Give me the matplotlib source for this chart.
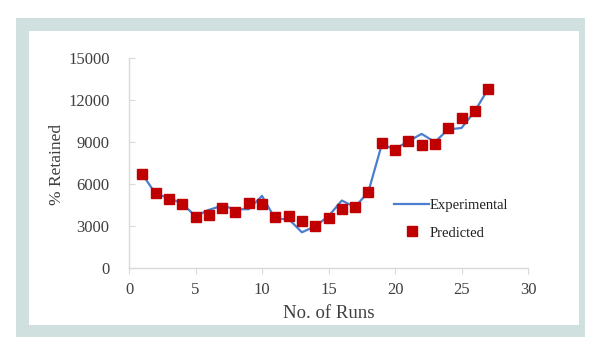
import matplotlib
matplotlib.use("Agg")
import matplotlib.pyplot as plt
from matplotlib.patches import Rectangle
from matplotlib.lines import Line2D

runs = list(range(1, 28))
experimental = [6700, 5300, 5000, 4600, 3700, 4150, 4450, 4200, 4200, 5150,
                3500, 3500, 2550, 2980, 3700, 4820, 4350, 5450, 8800, 8500,
                9050, 9580, 9000, 9900, 10000, 11200, 12780]
predicted = [6720, 5330, 4960, 4550, 3630, 3820, 4320, 4000, 4650, 4570,
             3650, 3730, 3390, 2970, 3560, 4230, 4330, 5460, 8960, 8460,
             9040, 8810, 8860, 9970, 10690, 11230, 12780]
xticks = [0, 5, 10, 15, 20, 25, 30]
yticks = [0, 3000, 6000, 9000, 12000, 15000]

plt.rcParams['font.family'] = ['Liberation Serif', 'DejaVu Serif']

W, H = 614, 337
fig = plt.figure(figsize=(W / 100, H / 100), dpi=100)
fig.patch.set_facecolor('white')

def px_rect(x0, y0, x1, y1, color, z):
    fig.patches.append(Rectangle((x0 / W, 1 - y1 / H), (x1 - x0) / W, (y1 - y0) / H,
                                 transform=fig.transFigure, facecolor=color,
                                 edgecolor='none', zorder=z))

px_rect(16, 18, 585, 337, '#d0e0df', -10)
px_rect(29, 31, 579, 325, 'white', -9)

ax = fig.add_axes([129 / W, 1 - 268 / H, (528 - 129) / W, (268 - 58) / H])
ax.set_facecolor('none')

ax.plot(runs, experimental, color='#4a7fd0', lw=1.6, zorder=2)
ax.plot(runs, predicted, linestyle='none', marker='s', markersize=6.8,
        color='#c00000', markeredgecolor='#c00000', zorder=3)

ax.set_xlim(0, 30)
ax.set_ylim(0, 15000)
ax.set_xticks(xticks)
ax.set_yticks(yticks)
ax.set_xticklabels([str(v) for v in xticks])
ax.set_yticklabels([str(v) for v in yticks])

for s in ['top', 'right']:
    ax.spines[s].set_visible(False)
for s in ['left', 'bottom']:
    ax.spines[s].set_color('#d9d9d9')
    ax.spines[s].set_linewidth(1.0)

ax.tick_params(axis='x', direction='out', length=4, color='#d9d9d9',
               labelsize=12, labelcolor='#404040', pad=6)
ax.tick_params(axis='y', direction='in', length=4, color='#d9d9d9',
               labelsize=12, labelcolor='#404040', pad=14)

ax.set_xlabel('No. of Runs', fontsize=13.5, color='#404040', labelpad=5)
ax.set_ylabel('% Retained', fontsize=12.5, color='#404040')
ax.yaxis.set_label_coords((65 - 129) / 399, 0.495)

handles = [Line2D([], [], color='#4a7fd0', lw=1.6),
           Line2D([], [], linestyle='none', marker='s', markersize=6.8,
                  color='#c00000')]
leg = ax.legend(handles, ['Experimental', 'Predicted'], loc='upper left',
                bbox_to_anchor=((387 - 129) / 399, (268 - 192) / 210),
                frameon=False, fontsize=10.5, handlelength=2.4,
                handletextpad=0.05, labelspacing=0.95, borderpad=0)
for t in leg.get_texts():
    t.set_color('#202020')

fig.savefig('out.png', dpi=100)
